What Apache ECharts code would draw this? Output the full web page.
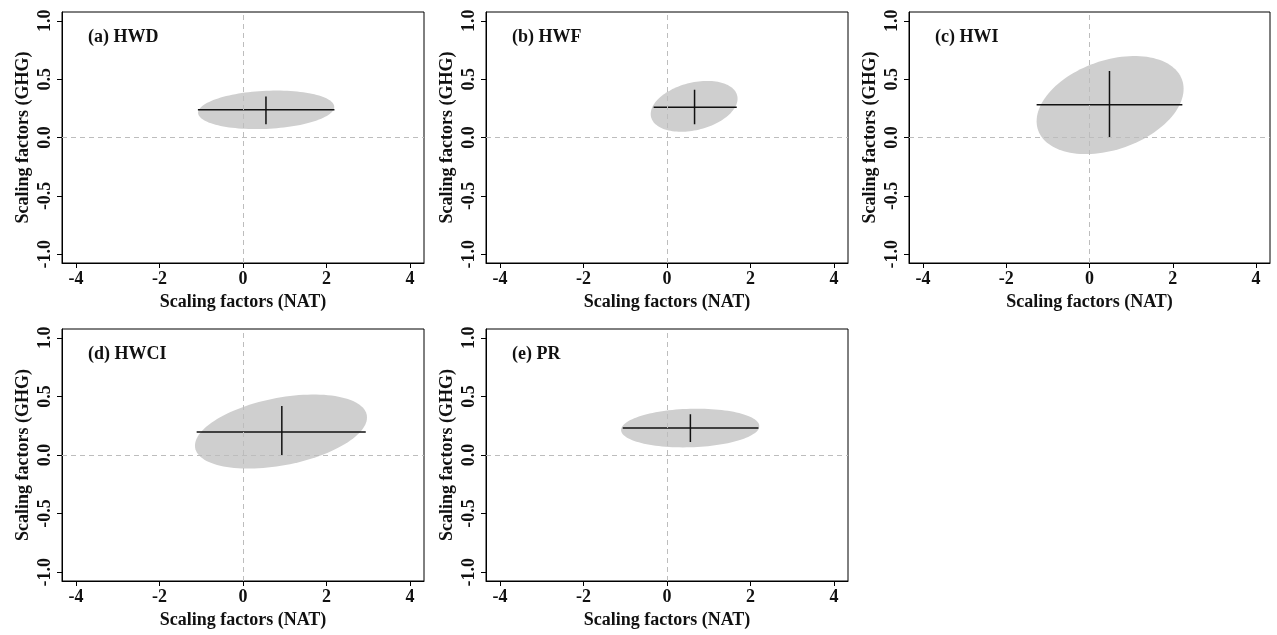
<!DOCTYPE html>
<html>
<head>
<meta charset="utf-8">
<script src="https://cdn.jsdelivr.net/npm/echarts@6/dist/echarts.min.js"></script>
<style>
  html, body { margin: 0; padding: 0; background: #fff; }
  #chart { width: 1277px; height: 635px; }
</style>
</head>
<body>
<div id="chart"></div>
<script>
  // panel titles
  const panelNames = ['(a) HWD', '(b) HWF', '(c) HWI', '(d) HWCI', '(e) PR']
  // best estimates and 5-95% ranges of the scaling factors
  const bestNat = [0.55, 0.66, 0.48, 0.93, 0.56]
  const bestGhg = [0.237, 0.26, 0.281, 0.197, 0.231]
  const natLow = [-1.08, -0.32, -1.27, -1.11, -1.06]
  const natHigh = [2.19, 1.67, 2.23, 2.94, 2.19]
  const ghgLow = [0.114, 0.114, 0.0, 0.0, 0.111]
  const ghgHigh = [0.351, 0.408, 0.569, 0.419, 0.348]
  // confidence ellipses: centre, half extents, correlation
  const ellCenterNat = [0.555, 0.65, 0.495, 0.91, 0.555]
  const ellCenterGhg = [0.237, 0.267, 0.278, 0.2, 0.23]
  const ellHalfNat = [1.63, 1.04, 1.765, 2.06, 1.655]
  const ellHalfGhg = [0.165, 0.218, 0.42, 0.316, 0.165]
  const ellCorr = [0.15, 0.3, 0.33, 0.38, 0.1]
  // tick labels
  const natTicks = [-4, -2, 0, 2, 4]
  const ghgTicks = [-1, -0.5, 0, 0.5, 1]

  const FONT = 'Liberation Serif'
  const FONT_SIZE = 18
  const GRIDS = [
    {left: 62, top: 12, width: 362, height: 251},
    {left: 486, top: 12, width: 362, height: 251},
    {left: 909, top: 12, width: 361, height: 251},
    {left: 62, top: 329, width: 362, height: 252},
    {left: 486, top: 329, width: 362, height: 252}
  ]

  function drawEllipse(params, api) {
    let cx = api.value(0)
    let cy = api.value(1)
    let rx = api.value(2)
    let ry = api.value(3)
    let phi = Math.acos(api.value(4))
    let points = []
    for (let i = 0; i < 120; i++) {
      let t = i / 120 * Math.PI * 2
      points.push(api.coord([cx + rx * Math.cos(t), cy + ry * Math.cos(t - phi)]))
    }
    return {
      type: 'polygon',
      shape: {points: points},
      style: {fill: '#cfcfcf'}
    }
  }

  let textStyle = {fontFamily: FONT, fontWeight: 'bold', fontSize: FONT_SIZE, color: '#111'}
  let grid = [], xAxis = [], yAxis = [], series = [], title = []
  panelNames.forEach((name, i) => {
    let g = GRIDS[i]
    grid.push(Object.assign({show: true, borderColor: '#000', borderWidth: 1, backgroundColor: '#fff'}, g))
    title.push({
      text: name,
      left: g.left + 21,
      top: g.top + 11,
      textStyle: textStyle
    })
    xAxis.push({
      gridIndex: i,
      type: 'value',
      min: -4.335,
      max: 4.335,
      name: 'Scaling factors (NAT)',
      nameLocation: 'middle',
      nameGap: 30,
      nameTextStyle: textStyle,
      axisLine: {show: true, onZero: false, lineStyle: {color: '#000', width: 1}},
      axisTick: {show: true, length: 5, customValues: natTicks, lineStyle: {color: '#000'}},
      axisLabel: Object.assign({customValues: natTicks, margin: 7}, textStyle),
      splitLine: {show: false}
    })
    yAxis.push({
      gridIndex: i,
      type: 'value',
      min: -1.075,
      max: 1.075,
      name: 'Scaling factors (GHG)',
      nameLocation: 'middle',
      nameGap: 30,
      nameTextStyle: textStyle,
      axisLine: {show: true, onZero: false, lineStyle: {color: '#000', width: 1}},
      axisTick: {show: true, length: 5, customValues: ghgTicks, lineStyle: {color: '#000'}},
      axisLabel: Object.assign({
        customValues: ghgTicks,
        rotate: 90,
        margin: 8,
        formatter: v => v.toFixed(1)
      }, textStyle),
      splitLine: {show: false}
    })
    series.push({
      type: 'custom',
      xAxisIndex: i,
      yAxisIndex: i,
      z: 1,
      silent: true,
      renderItem: drawEllipse,
      data: [[ellCenterNat[i], ellCenterGhg[i], ellHalfNat[i], ellHalfGhg[i], ellCorr[i]]]
    })
    series.push({
      type: 'line',
      xAxisIndex: i,
      yAxisIndex: i,
      z: 2,
      silent: true,
      showSymbol: false,
      lineStyle: {opacity: 0},
      data: [[0, 0]],
      markLine: {
        silent: true,
        symbol: 'none',
        label: {show: false},
        lineStyle: {color: '#bdbdbd', width: 1, type: [5, 4]},
        data: [{xAxis: 0}, {yAxis: 0}]
      }
    })
    series.push({
      type: 'line',
      xAxisIndex: i,
      yAxisIndex: i,
      z: 3,
      silent: true,
      showSymbol: false,
      lineStyle: {color: '#111', width: 1.5},
      data: [[natLow[i], bestGhg[i]], [natHigh[i], bestGhg[i]]]
    })
    series.push({
      type: 'line',
      xAxisIndex: i,
      yAxisIndex: i,
      z: 3,
      silent: true,
      showSymbol: false,
      lineStyle: {color: '#111', width: 1.5},
      data: [[bestNat[i], ghgLow[i]], [bestNat[i], ghgHigh[i]]]
    })
  })

  let myChart = echarts.init(document.getElementById('chart'))
  myChart.setOption({
    animation: false,
    backgroundColor: '#fff',
    title: title,
    grid: grid,
    xAxis: xAxis,
    yAxis: yAxis,
    series: series
  })
</script>
</body>
</html>
